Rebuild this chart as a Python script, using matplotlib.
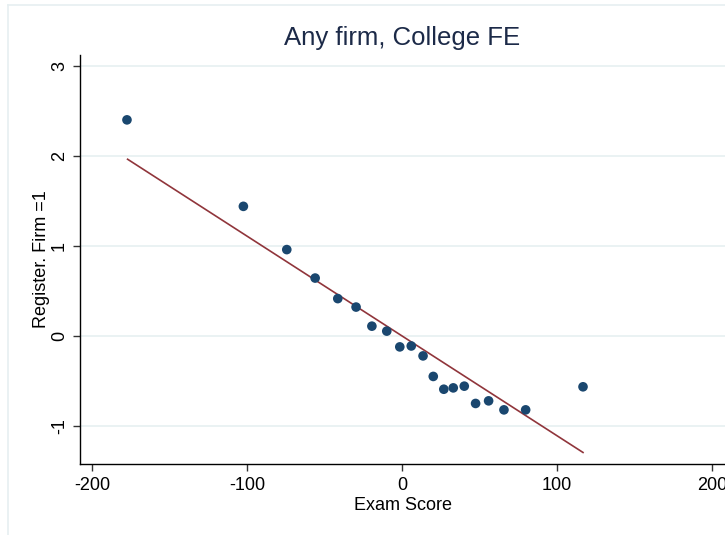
import numpy as np
import matplotlib.pyplot as plt
from matplotlib.lines import Line2D

# binned means (exam score vs registered any firm)
exam_score = [-177.4, -102.3, -74.3, -56.0, -41.4, -29.6, -19.4, -9.8, -1.4, 6.0,
              13.6, 20.2, 27.0, 33.1, 40.2, 47.5, 55.9, 65.8, 79.8, 116.8]
register_firm = [2.40, 1.44, 0.96, 0.644, 0.416, 0.322, 0.11, 0.055, -0.12, -0.11,
                 -0.22, -0.448, -0.59, -0.575, -0.556, -0.748, -0.719, -0.819, -0.819, -0.563]
# fitted line endpoints
fit_x = [-177.0, 116.8]
fit_y = [1.963, -1.292]

xticks = [-200, -100, 0, 100, 200]
yticks = [-1, 0, 1, 2, 3]

plt.rcParams['font.family'] = ['Liberation Sans', 'DejaVu Sans']

fig = plt.figure(figsize=(7.25, 5.35), dpi=100)
ax = fig.add_axes([80 / 725, 1 - 464 / 535, 1 - 80 / 725, (464 - 55) / 535])

# faint outer frame of the graph region
frame_col = '#e6eff1'
fig.add_artist(Line2D([8 / 725, 1], [1 - 5 / 535] * 2, color=frame_col, lw=1.2))
fig.add_artist(Line2D([8 / 725] * 2, [0, 1 - 5 / 535], color=frame_col, lw=1.2))

for yt in yticks:
    ax.axhline(yt, color='#eaf2f3', lw=1.4, zorder=0)

ax.plot(fit_x, fit_y, color='#90353b', lw=1.2, zorder=2)
ax.scatter(exam_score, register_firm, s=48, color='#1a476f', edgecolors='none', zorder=3)

ax.set_xlim(-207.7, 208.4)
ax.set_ylim(-1.42, 3.12)
ax.set_xticks(xticks)
ax.set_yticks(yticks)
ax.set_xticklabels([str(v) for v in xticks], fontsize=13)
ax.set_yticklabels([str(v) for v in yticks], fontsize=13, rotation=90, va='center')
ax.tick_params(direction='out', length=5.2, width=1, color='#333333', pad=4.5)
ax.tick_params(axis='y', pad=3.5)

for s in ['top', 'right']:
    ax.spines[s].set_visible(False)
for s in ['left', 'bottom']:
    ax.spines[s].set_linewidth(1.0)
    ax.spines[s].set_color('black')

ax.set_xlabel('Exam Score', fontsize=13, labelpad=2)
ax.set_ylabel('Register. Firm =1', fontsize=13, labelpad=1)
ax.set_title('Any firm, College FE', fontsize=18.5, color='#1c2a48', pad=7)

fig.savefig('out.png', dpi=100)
